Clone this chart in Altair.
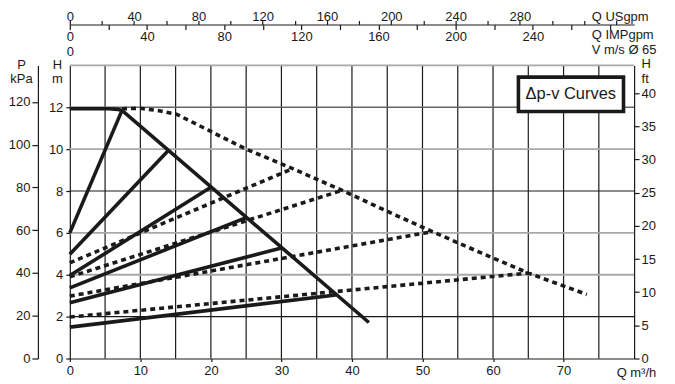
import altair as alt
import pandas as pd

FONT = "Liberation Sans"
INK = "#1a1a1a"

# ---- data ----
solid_max_q = [0, 5.5, 6.8, 7.4, 42.4]
solid_max_h = [11.93, 11.93, 11.9, 11.85, 1.72]
dotted_max_q = [7.4, 10, 12.7, 15.1, 19.8, 25, 31.6, 38.6, 45.2, 51.4, 58.4, 65, 73.3]
dotted_max_h = [11.93, 11.95, 11.83, 11.67, 10.88, 10.0, 9.07, 8.03, 7.0, 6.06, 5.03, 4.08, 3.06]
solid_prop_h0 = [6.0, 4.98, 3.96, 3.37, 2.66, 1.5]
solid_prop_q1 = [7.4, 14.0, 20.0, 25.0, 30.0, 37.7]
solid_prop_h1 = [11.85, 9.95, 8.18, 6.73, 5.28, 3.03]
dotted_prop_h0 = [4.57, 3.9, 2.98, 1.98]
dotted_prop_q1 = [31.6, 38.6, 51.4, 65.0]
dotted_prop_h1 = [9.07, 8.03, 6.06, 4.08]

vgrid_q = [5, 10, 15, 20, 25, 30, 35, 40, 45, 50, 55, 60, 65, 70, 75]
hgrid_h = [2, 4, 6, 8, 10, 12, 14]
hgrid_c = ["#1a1a1a", "#a8a8a8", "#a8a8a8", "#1a1a1a", "#a8a8a8", "#666666", "#a8a8a8"]
hgrid_w = [1.2, 1.8, 1.8, 1.2, 1.8, 1.5, 1.8]

q_ticks = [0, 10, 20, 30, 40, 50, 60, 70]
h_ticks = [0, 2, 4, 6, 8, 10, 12]
kpa_ticks = [0, 20, 40, 60, 80, 100, 120]
ft_ticks = [0, 5, 10, 15, 20, 25, 30, 35, 40]
us_ticks = list(range(0, 360, 20))
imp_ticks = list(range(0, 300, 20))
v_ticks = [0]

box_q = [63.6, 78.5]
box_h = [11.8, 13.44]
box_text = "Δp-v Curves"
box_text_pos = [71.03, 12.62]

# ---- tables ----
rows_solid, rows_dot = [], []
for i, (q, h) in enumerate(zip(solid_max_q, solid_max_h)):
    rows_solid.append({"s": "smax", "i": i, "q": q, "h": h})
for k, (h0, q1, h1) in enumerate(zip(solid_prop_h0, solid_prop_q1, solid_prop_h1)):
    rows_solid.append({"s": f"sp{k}", "i": 0, "q": 0, "h": h0})
    rows_solid.append({"s": f"sp{k}", "i": 1, "q": q1, "h": h1})
for i, (q, h) in enumerate(zip(dotted_max_q, dotted_max_h)):
    rows_dot.append({"s": "dmax", "i": i, "q": q, "h": h})
for k, (h0, q1, h1) in enumerate(zip(dotted_prop_h0, dotted_prop_q1, dotted_prop_h1)):
    rows_dot.append({"s": f"dp{k}", "i": 0, "q": 0, "h": h0})
    rows_dot.append({"s": f"dp{k}", "i": 1, "q": q1, "h": h1})
df_solid = pd.DataFrame(rows_solid)
df_dot = pd.DataFrame(rows_dot)

xs = alt.Scale(domain=[0, 80], nice=False, zero=True)
ys = alt.Scale(domain=[0, 14], nice=False, zero=True)

x_axis = alt.Axis(values=q_ticks, grid=False, tickSize=3, labelPadding=3,
                  labelFlush=False, labelOverlap=False,
                  title="Q m³/h", titleX=548, titleY=18.5, titleAlign="left",
                  titleBaseline="alphabetic")
y_axis = alt.Axis(values=h_ticks, grid=False, tickSize=4, labelPadding=3,
                  labelOverlap=False,
                  title=["H", "m"], titleAngle=0, titleX=-13, titleY=-7,
                  titleAlign="center", titleBaseline="top", titleLineHeight=14.6)

X = alt.X("q:Q", scale=xs, axis=x_axis)
Y = alt.Y("h:Q", scale=ys, axis=y_axis)

vgrid = alt.Chart(pd.DataFrame({"q": vgrid_q})).mark_rule(color=INK, strokeWidth=1.2).encode(x=X)
hgrid = alt.Chart(pd.DataFrame({"h": hgrid_h, "c": hgrid_c, "w": hgrid_w})).mark_rule().encode(
    y=Y, color=alt.Color("c:N", scale=None), strokeWidth=alt.StrokeWidth("w:Q", scale=None))

dotted = alt.Chart(df_dot).mark_line(color=INK, strokeWidth=3.6, strokeDash=[5, 4],
                                     strokeCap="butt").encode(
    x=X, y=Y, detail="s:N", order="i:Q")
solid = alt.Chart(df_solid).mark_line(color=INK, strokeWidth=3.6, strokeJoin="miter").encode(
    x=X, y=Y, detail="s:N", order="i:Q")

box = alt.Chart(pd.DataFrame({"q": [box_q[0]], "q2": [box_q[1]], "h": [box_h[0]], "h2": [box_h[1]]})).mark_rect(
    fill="white", stroke=INK, strokeWidth=3.6).encode(x=X, x2="q2:Q", y=Y, y2="h2:Q")
btext = alt.Chart(pd.DataFrame({"q": [box_text_pos[0]], "h": [box_text_pos[1]], "t": [box_text]})).mark_text(
    font=FONT, fontSize=16.5, color=INK, align="center", baseline="middle").encode(x=X, y=Y, text="t:N")

main = alt.layer(vgrid, hgrid, dotted, solid, box, btext)

kpa = alt.Chart(pd.DataFrame({"kpa": kpa_ticks})).mark_point(opacity=0).encode(
    y=alt.Y("kpa:Q", scale=alt.Scale(domain=[0, 137.1], nice=False),
            axis=alt.Axis(orient="left", offset=32, values=kpa_ticks, grid=False,
                          tickSize=6, labelPadding=2, labelOverlap=False,
                          title=["P", "kPa"], titleAngle=0, titleX=-17, titleY=-7,
                          titleAlign="center", titleBaseline="top", titleLineHeight=14.6)))

ft = alt.Chart(pd.DataFrame({"ft": ft_ticks})).mark_point(opacity=0).encode(
    y=alt.Y("ft:Q", scale=alt.Scale(domain=[0, 44.2], nice=False),
            axis=alt.Axis(orient="right", values=ft_ticks, grid=False,
                          tickSize=5, labelPadding=2, labelOverlap=False,
                          title=["H", "ft"], titleAngle=0, titleX=7, titleY=-7.6,
                          titleAlign="left", titleBaseline="top", titleLineHeight=14.6)))

us = alt.Chart(pd.DataFrame({"us": us_ticks})).mark_point(opacity=0).encode(
    x=alt.X("us:Q", scale=alt.Scale(domain=[0, 351.1], nice=False),
            axis=alt.Axis(orient="top", offset=41, values=us_ticks, grid=False,
                          tickSize=4, labelPadding=0, labelFlush=False, labelOverlap=False,
                          labelBaseline="alphabetic",
                          labelExpr="(datum.value % 40 == 0 && datum.value <= 280) ? datum.label : ''",
                          title="Q USgpm", titleX=523, titleY=-4, titleAlign="left",
                          titleBaseline="alphabetic")))

imp = alt.Chart(pd.DataFrame({"imp": imp_ticks})).mark_point(opacity=0).encode(
    x=alt.X("imp:Q", scale=alt.Scale(domain=[0, 292.5], nice=False),
            axis=alt.Axis(orient="bottom", offset=-335, values=imp_ticks, grid=False,
                          domain=False, tickSize=5, labelPadding=1, labelFlush=False,
                          labelOverlap=False,
                          labelExpr="(datum.value % 40 == 0 && datum.value <= 240) ? datum.label : ''",
                          title="Q IMPgpm", titleX=523, titleY=14, titleAlign="left",
                          titleBaseline="alphabetic")))

vel = alt.Chart(pd.DataFrame({"v": v_ticks})).mark_point(opacity=0).encode(
    x=alt.X("v:Q", scale=alt.Scale(domain=[0, 6.7], nice=False),
            axis=alt.Axis(orient="bottom", offset=-315, values=v_ticks, grid=False,
                          domain=False, ticks=False, labelPadding=1, labelFlush=False,
                          title="V m/s Ø 65", titleX=523, titleY=9, titleAlign="left",
                          titleBaseline="alphabetic")))

chart = alt.layer(main, kpa, ft, us, imp, vel).resolve_scale(
    x="independent", y="independent"
).properties(
    width=566, height=294,
    autosize=alt.AutoSizeParams(type="none"),
    padding={"left": 62, "top": 57, "right": 33, "bottom": 24},
    background="white",
).configure_axis(
    labelFont=FONT, labelFontSize=13, labelColor=INK,
    titleFont=FONT, titleFontSize=13, titleFontWeight="normal", titleColor=INK,
    domainColor=INK, tickColor=INK, domainWidth=1.2, tickWidth=1.2,
).configure_view(stroke=None)

chart.save("out.html", embed_options={"renderer": "svg", "actions": False})
